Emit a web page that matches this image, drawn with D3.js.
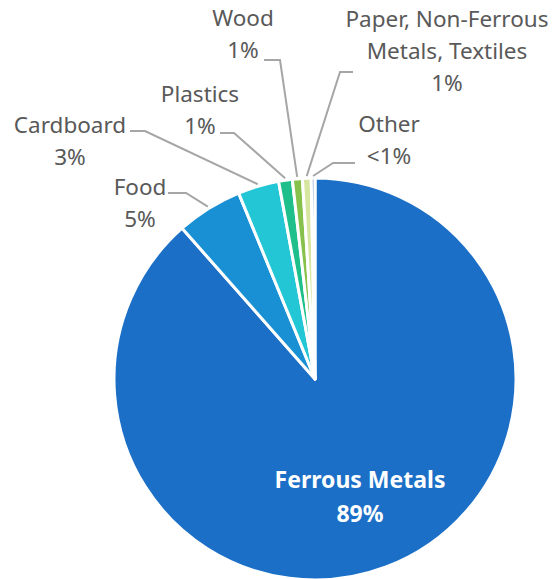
<!DOCTYPE html>
<html>
<head>
<meta charset="utf-8">
<script src="https://cdn.jsdelivr.net/npm/d3@7"></script>
<style>
  html, body { margin: 0; padding: 0; background: #ffffff; }
  svg { display: block; }
</style>
</head>
<body>
<svg id="chart" width="556" height="579"></svg>
<script>
// ---- data (in percent) ----
const categories = ["Ferrous Metals", "Food", "Cardboard", "Plastics", "Wood", "Paper, Non-Ferrous Metals, Textiles", "Other"];
const values     = [88.5, 5.3, 3.3, 1.1, 0.8, 0.7, 0.3];
const labelNames = [["Ferrous Metals"], ["Food"], ["Cardboard"], ["Plastics"], ["Wood"], ["Paper, Non-Ferrous", "Metals, Textiles"], ["Other"]];
const labelPcts  = ["89%", "5%", "3%", "1%", "1%", "1%", "<1%"];
const colors     = ["#1b6fc6", "#1a90d4", "#22c6d4", "#1fbf8c", "#86c14b", "#d6e6a0", "#8ea6d6"];

// ---- layout (label anchors: centre x, first baseline y, and leader elbow) ----
const labelLayout = [
  { x: 360, y: 488, inside: true },
  { x: 140, y: 195, elbow: [[168, 193], [186, 193]] },
  { x: 70,  y: 133, elbow: [[130, 131], [145, 131]] },
  { x: 200, y: 102, elbow: [[220, 133], [234, 133]] },
  { x: 243, y: 26,  elbow: [[264, 60], [280, 60]] },
  { x: 447, y: 27,  elbow: [[353, 72], [340, 72]] },
  { x: 389, y: 132, elbow: [[355, 163], [333, 163]] }
];

const cx = 315, cy = 379, R = 201;
const lineH = 32;

const svg = d3.select("#chart");
const g = svg.append("g").attr("transform", `translate(${cx},${cy})`);

const idx = d3.range(values.length);
const pie = d3.pie().sort(null).value(i => values[i]);
const arcs = pie(idx);

const arc = d3.arc().innerRadius(0).outerRadius(R);
const edgeArc = d3.arc().innerRadius(R + 2).outerRadius(R + 2);

g.selectAll("path.slice").data(arcs).enter().append("path")
  .attr("class", "slice")
  .attr("d", arc)
  .attr("fill", d => colors[d.data])
  .attr("stroke", "#ffffff")
  .attr("stroke-width", 3)
  .attr("stroke-linejoin", "round");

// leader lines
const lineG = svg.append("g");
arcs.forEach(d => {
  const L = labelLayout[d.data];
  if (L.inside) return;
  const c = edgeArc.centroid(d);
  const pts = [L.elbow[0], L.elbow[1], [c[0] + cx, c[1] + cy]];
  lineG.append("path")
    .attr("d", d3.line()(pts))
    .attr("fill", "none")
    .attr("stroke", "#a6a6a6")
    .attr("stroke-width", 2);
});

// labels
const fontFam = "'Noto Sans', 'Open Sans', sans-serif";
arcs.forEach(d => {
  const i = d.data;
  const L = labelLayout[i];
  const lines = labelNames[i].concat([labelPcts[i]]);
  const t = svg.append("text")
    .attr("text-anchor", "middle")
    .attr("font-family", fontFam)
    .attr("font-size", L.inside ? 23 : 22.5)
    .attr("font-weight", L.inside ? "bold" : "normal")
    .attr("fill", L.inside ? "#ffffff" : "#595959");
  lines.forEach((s, k) => {
    t.append("tspan").attr("x", L.x).attr("y", L.y + k * (L.inside ? 34 : lineH)).text(s);
  });
});
</script>
</body>
</html>
